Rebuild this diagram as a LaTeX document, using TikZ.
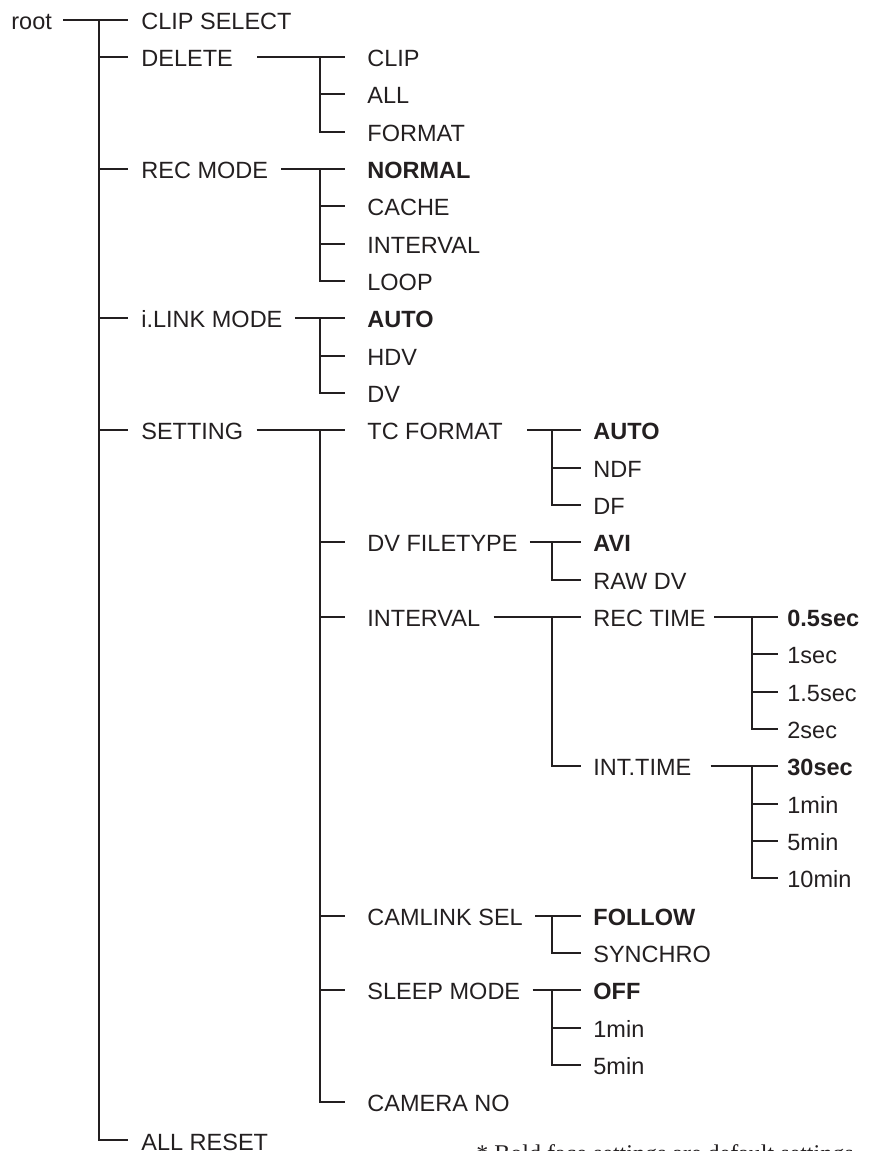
\documentclass[tikz,border=0pt]{standalone}
\usepackage{fontspec}
\setmainfont{Liberation Sans}
\newfontfamily\notefont{Liberation Serif}
\usetikzlibrary{positioning}
\definecolor{ink}{HTML}{231F20}

\begin{document}
\begin{tikzpicture}[
    x=0.5pt, y=-18.67pt,
    item/.style={anchor=west, inner sep=0pt, text height=9.6pt, text depth=0pt,
                 font=\fontsize{11.75}{14}\selectfont, text=ink},
    default/.style={item, font=\fontsize{11.75}{14}\selectfont\bfseries},
    branch/.style={draw=ink, line width=1pt, line join=miter},
    note/.style={anchor=base west, inner sep=0pt,
                 font=\notefont\fontsize{12}{14}\selectfont, text=ink}
]
\useasboundingbox (0,0.4778) rectangle (873,31.303);
\clip (0,0.4778) rectangle (873,31.303);

% columns of the vertical bars
\coordinate (col1) at (99,0);
\coordinate (col2) at (320,0);
\coordinate (col3) at (552,0);
\coordinate (col4) at (752,0);

% level 0 and 1
\node[item] (root) at (11,1) {root};
\node[item] (clipsel) at (141,1) {CLIP SELECT};
\node[item] (delete) at (141,2) {DELETE};
\node[item] (recmode) at (141,5) {REC MODE};
\node[item] (ilink) at (141,9) {i.LINK MODE};
\node[item] (setting) at (141,12) {SETTING};
\node[item] (allreset) at (141,31.02) {ALL RESET};

% level 2
\node[item] (clip) at (367,2) {CLIP};
\node[item] (all) at (367,3) {ALL};
\node[item] (format) at (367,4) {FORMAT};
\node[default] (normal) at (367,5) {NORMAL};
\node[item] (cache) at (367,6) {CACHE};
\node[item] (recint) at (367,7) {INTERVAL};
\node[item] (loop) at (367,8) {LOOP};
\node[default] (linkauto) at (367,9) {AUTO};
\node[item] (hdv) at (367,10) {HDV};
\node[item] (dv) at (367,11) {DV};
\node[item] (tcformat) at (367,12) {TC FORMAT};
\node[item] (dvfile) at (367,15) {DV FILETYPE};
\node[item] (interval) at (367,17) {INTERVAL};
\node[item] (camlink) at (367,25) {CAMLINK SEL};
\node[item] (sleep) at (367,27) {SLEEP MODE};
\node[item] (camerano) at (367,30) {CAMERA NO};

% level 3
\node[default] (tcauto) at (593,12) {AUTO};
\node[item] (ndf) at (593,13) {NDF};
\node[item] (df) at (593,14) {DF};
\node[default] (avi) at (593,15) {AVI};
\node[item] (rawdv) at (593,16) {RAW DV};
\node[item] (rectime) at (593,17) {REC TIME};
\node[item] (inttime) at (593,21) {INT.TIME};
\node[default] (follow) at (593,25) {FOLLOW};
\node[item] (synchro) at (593,26) {SYNCHRO};
\node[default] (sleepoff) at (593,27) {OFF};
\node[item] (sleepa) at (593,28) {1min};
\node[item] (sleepb) at (593,29) {5min};

% level 4
\node[default] (sec05) at (787,17) {0.5sec};
\node[item] (sec1) at (787,18) {1sec};
\node[item] (sec15) at (787,19) {1.5sec};
\node[item] (sec2) at (787,20) {2sec};
\node[default] (sec30) at (787,21) {30sec};
\node[item] (min1) at (787,22) {1min};
\node[item] (min5) at (787,23) {5min};
\node[item] (min10) at (787,24) {10min};

% root tree
\draw[branch] ([xshift=5.5pt]root.east) -- ([xshift=-6.5pt]clipsel.west);
\draw[branch] (clipsel.west -| col1) |- ([xshift=-6.5pt]allreset.west);
\foreach \n in {delete,recmode,ilink,setting}
  \draw[branch] (\n.west -| col1) -- ([xshift=-6.5pt]\n.west);

% DELETE
\draw[branch] ([xshift=12pt]delete.east) -- ([xshift=-11pt]clip.west);
\draw[branch] (clip.west -| col2) |- ([xshift=-11pt]format.west);
\draw[branch] (all.west -| col2) -- ([xshift=-11pt]all.west);

% REC MODE
\draw[branch] ([xshift=6.5pt]recmode.east) -- ([xshift=-11pt]normal.west);
\draw[branch] (normal.west -| col2) |- ([xshift=-11pt]loop.west);
\foreach \n in {cache,recint}
  \draw[branch] (\n.west -| col2) -- ([xshift=-11pt]\n.west);

% i.LINK MODE
\draw[branch] ([xshift=6pt]ilink.east) -- ([xshift=-11pt]linkauto.west);
\draw[branch] (linkauto.west -| col2) |- ([xshift=-11pt]dv.west);
\draw[branch] (hdv.west -| col2) -- ([xshift=-11pt]hdv.west);

% SETTING
\draw[branch] ([xshift=6.5pt]setting.east) -- ([xshift=-11pt]tcformat.west);
\draw[branch] (tcformat.west -| col2) |- ([xshift=-11pt]camerano.west);
\foreach \n in {dvfile,interval,camlink,sleep}
  \draw[branch] (\n.west -| col2) -- ([xshift=-11pt]\n.west);

% TC FORMAT
\draw[branch] ([xshift=12pt]tcformat.east) -- ([xshift=-6pt]tcauto.west);
\draw[branch] (tcauto.west -| col3) |- ([xshift=-6pt]df.west);
\draw[branch] (ndf.west -| col3) -- ([xshift=-6pt]ndf.west);

% DV FILETYPE
\draw[branch] ([xshift=6pt]dvfile.east) -- ([xshift=-6pt]avi.west);
\draw[branch] (avi.west -| col3) |- ([xshift=-6pt]rawdv.west);

% INTERVAL
\draw[branch] ([xshift=6.5pt]interval.east) -- ([xshift=-6pt]rectime.west);
\draw[branch] (rectime.west -| col3) |- ([xshift=-6pt]inttime.west);

% REC TIME
\draw[branch] ([xshift=4pt]rectime.east) -- ([xshift=-4.5pt]sec05.west);
\draw[branch] (sec05.west -| col4) |- ([xshift=-4.5pt]sec2.west);
\foreach \n in {sec1,sec15}
  \draw[branch] (\n.west -| col4) -- ([xshift=-4.5pt]\n.west);

% INT.TIME
\draw[branch] ([xshift=9.5pt]inttime.east) -- ([xshift=-4.5pt]sec30.west);
\draw[branch] (sec30.west -| col4) |- ([xshift=-4.5pt]min10.west);
\foreach \n in {min1,min5}
  \draw[branch] (\n.west -| col4) -- ([xshift=-4.5pt]\n.west);

% CAMLINK SEL
\draw[branch] ([xshift=6pt]camlink.east) -- ([xshift=-6pt]follow.west);
\draw[branch] (follow.west -| col3) |- ([xshift=-6pt]synchro.west);

% SLEEP MODE
\draw[branch] ([xshift=6pt]sleep.east) -- ([xshift=-6pt]sleepoff.west);
\draw[branch] (sleepoff.west -| col3) |- ([xshift=-6pt]sleepb.west);
\draw[branch] (sleepa.west -| col3) -- ([xshift=-6pt]sleepa.west);

% footnote, cut by the lower edge
\node[note] (footnote) at (476,31.58) {* Bold face settings are default settings};
\end{tikzpicture}
\end{document}
